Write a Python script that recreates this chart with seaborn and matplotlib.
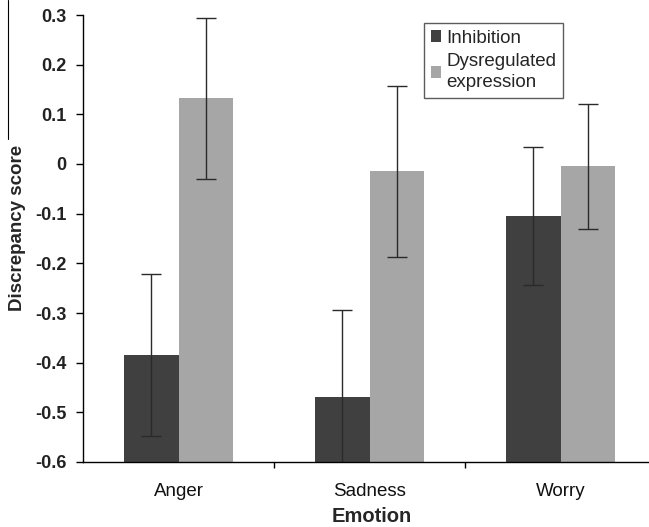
import numpy as np
import matplotlib
matplotlib.use("Agg")
import matplotlib.pyplot as plt
import pandas as pd
import seaborn as sns
from matplotlib.lines import Line2D

# values
emotions = ["Anger", "Sadness", "Worry"]
groups = ["Inhibition", "Dysregulated\nexpression"]
inhibition = [-0.385, -0.47, -0.105]
dysregulated = [0.132, -0.015, -0.005]
inhibition_err = [0.163, 0.176, 0.139]
dysregulated_err = [0.162, 0.172, 0.125]
yticks = [0.3, 0.2, 0.1, 0, -0.1, -0.2, -0.3, -0.4, -0.5, -0.6]
BASE = -0.6

df = pd.DataFrame({
    "Emotion": emotions * 2,
    "Group": [groups[0]] * 3 + [groups[1]] * 3,
    "Score": inhibition + dysregulated,
})
errs = [inhibition_err, dysregulated_err]

sns.set_style("white")
plt.rcParams["font.family"] = ["Liberation Sans", "DejaVu Sans"]

fig = plt.figure(figsize=(6.49, 5.27), dpi=100)
ax = fig.add_axes([83 / 649, 1 - 462 / 527, 566 / 649, (462 - 15) / 527])

sns.barplot(data=df, x="Emotion", y="Score", hue="Group", order=emotions,
            hue_order=groups, palette=["#404040", "#a6a6a6"], width=0.566,
            gap=0, errorbar=None, saturation=1, linewidth=0, ax=ax)

# Excel-style: bars rise from the axis floor, not from zero
for cont, err in zip(ax.containers, errs):
    xs, tops = [], []
    for p in cont.patches:
        top = p.get_y() + p.get_height()
        p.set_y(BASE)
        p.set_height(top - BASE)
        xs.append(p.get_x() + p.get_width() / 2)
        tops.append(top)
    ax.errorbar(xs, tops, yerr=err, fmt="none", ecolor="#2a2a2a",
                elinewidth=1, capsize=7.5, capthick=1)

ax.set_ylim(BASE, 0.3)
ax.set_xlim(-0.5, -0.5 + 566 / 191)
ax.set_yticks(yticks)
ax.set_yticklabels(["0" if v == 0 else f"{v:.1f}" for v in yticks],
                   fontsize=13, fontweight="bold", color="#222222")
ax.set_xticks([0, 1, 2])
ax.set_xticklabels(emotions, fontsize=13.5, color="#111111")
ax.tick_params(axis="x", length=0, pad=15)
# category separator ticks
ax.set_xticks([0.5, 1.5], minor=True)
ax.tick_params(axis="x", which="minor", direction="out", length=4, width=1,
               color="black", bottom=True)
ax.tick_params(axis="y", direction="out", length=5, width=1, color="black",
               left=True, pad=7)

sns.despine(ax=ax)
for s in ["left", "bottom"]:
    ax.spines[s].set_color("black")
    ax.spines[s].set_linewidth(1)

ax.set_xlabel("Emotion", fontsize=14.5, fontweight="bold")
ax.set_ylabel("Discrepancy score", fontsize=13.5, fontweight="bold")
ax.xaxis.set_label_coords((372 - 83) / 566, -(507 - 462) / 447)
ax.yaxis.set_label_coords(-(83 - 26) / 566, (462 - 228) / 447)

leg = ax.legend(loc="upper left", bbox_to_anchor=((424 - 83) / 566, 1 - 8 / 447),
                fontsize=13.5, frameon=True, fancybox=False, edgecolor="#333333",
                handlelength=0.55, handleheight=0.55, handletextpad=0.3,
                borderpad=0.35, labelspacing=0.35, borderaxespad=0)
leg.get_frame().set_linewidth(1)
for t in leg.get_texts():
    t.set_linespacing(1.3)

fig.add_artist(Line2D([8 / 649, 8 / 649], [1.0, 1 - 139 / 527],
                      color="black", lw=0.8))

fig.savefig("out.png", dpi=100)
